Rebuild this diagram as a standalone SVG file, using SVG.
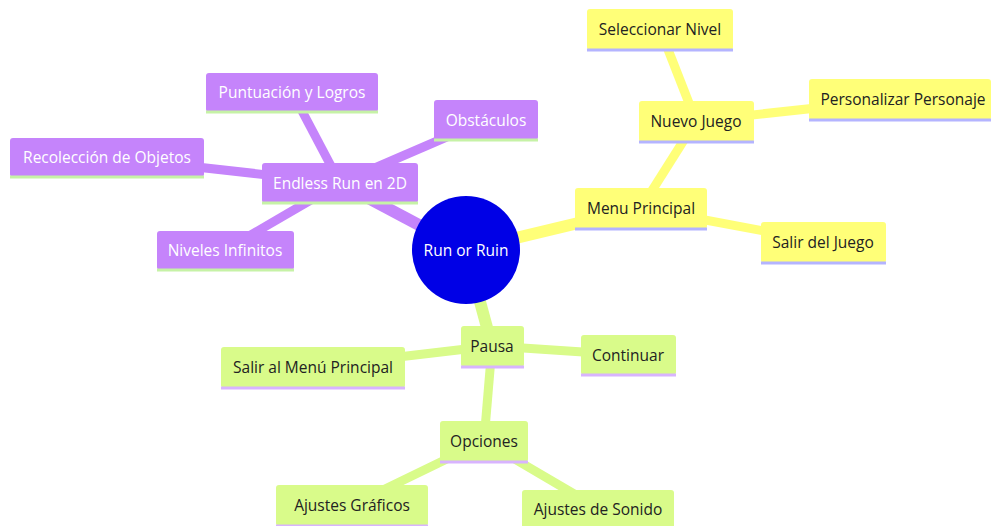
<svg xmlns="http://www.w3.org/2000/svg" width="991" height="526" viewBox="0 0 991 526">
<style>
text{font-family:"Open Sans","Liberation Sans",sans-serif;font-size:15.5px;text-anchor:middle;dominant-baseline:central}
.p rect{fill:#c584fb}.p line{stroke:#c6f2a6;stroke-width:3}.p text{fill:#ffffff}
.y rect{fill:#ffff78}.y line{stroke:#b4b4ff;stroke-width:3}.y text{fill:#222222}
.g rect{fill:#d9fb8a}.g line{stroke:#d8b4fe;stroke-width:3}.g text{fill:#222222}
.e{fill:none;stroke-linecap:butt}
.ep{stroke:#c584fb}.ey{stroke:#ffff78}.eg{stroke:#d9fb8a}
.d1{stroke-width:12}.d2{stroke-width:9}
</style>
<rect width="991" height="526" fill="#ffffff"/>
<g id="connectors">
<line class="e ep d1" x1="466" y1="250" x2="340" y2="183"/>
<line class="e ep d2" x1="340" y1="183" x2="292" y2="92"/>
<line class="e ep d2" x1="340" y1="183" x2="486" y2="120"/>
<line class="e ep d2" x1="340" y1="183" x2="107" y2="157"/>
<line class="e ep d2" x1="340" y1="183" x2="225" y2="250"/>
<line class="e ey d1" x1="466" y1="250" x2="641" y2="208"/>
<line class="e ey d2" x1="641" y1="208" x2="696" y2="121"/>
<line class="e ey d2" x1="696" y1="121" x2="660" y2="29"/>
<line class="e ey d2" x1="696" y1="121" x2="900" y2="99"/>
<line class="e ey d2" x1="641" y1="208" x2="823" y2="242"/>
<line class="e eg d1" x1="466" y1="250" x2="492" y2="346"/>
<line class="e eg d2" x1="492" y1="346" x2="628" y2="355"/>
<line class="e eg d2" x1="492" y1="346" x2="313" y2="367"/>
<line class="e eg d2" x1="492" y1="346" x2="484" y2="441"/>
<line class="e eg d2" x1="484" y1="441" x2="352" y2="505"/>
<line class="e eg d2" x1="484" y1="441" x2="598" y2="508"/>
</g>
<g id="root"><circle cx="466" cy="250" r="54" fill="#0000e6"/><text x="466" y="250" fill="#ffffff">Run or Ruin</text></g>
<g id="endless" class="p"><rect x="262" y="163" width="156" height="40" rx="3"/><line x1="262" y1="203" x2="418" y2="203"/><text x="340" y="183">Endless Run en 2D</text></g>
<g id="puntuacion" class="p"><rect x="206" y="73" width="172" height="39" rx="3"/><line x1="206" y1="112" x2="378" y2="112"/><text x="292" y="92">Puntuación y Logros</text></g>
<g id="obstaculos" class="p"><rect x="434" y="100" width="104" height="40" rx="3"/><line x1="434" y1="140" x2="538" y2="140"/><text x="486" y="120">Obstáculos</text></g>
<g id="recoleccion" class="p"><rect x="10" y="138" width="194" height="39" rx="3"/><line x1="10" y1="177" x2="204" y2="177"/><text x="107" y="157">Recolección de Objetos</text></g>
<g id="niveles" class="p"><rect x="157" y="231" width="137" height="39" rx="3"/><line x1="157" y1="270" x2="294" y2="270"/><text x="225" y="250">Niveles Infinitos</text></g>
<g id="menu" class="y"><rect x="575" y="188" width="132" height="41" rx="3"/><line x1="575" y1="229" x2="707" y2="229"/><text x="641" y="208">Menu Principal</text></g>
<g id="nuevo" class="y"><rect x="639" y="101" width="115" height="41" rx="3"/><line x1="639" y1="142" x2="754" y2="142"/><text x="696" y="121">Nuevo Juego</text></g>
<g id="seleccionar" class="y"><rect x="587" y="9" width="146" height="41" rx="3"/><line x1="587" y1="50" x2="733" y2="50"/><text x="660" y="29">Seleccionar Nivel</text></g>
<g id="personalizar" class="y"><rect x="809" y="79" width="182" height="41" rx="3"/><line x1="809" y1="120" x2="991" y2="120"/><text x="903" y="99">Personalizar Personaje</text></g>
<g id="salirjuego" class="y"><rect x="761" y="222" width="125" height="41" rx="3"/><line x1="761" y1="263" x2="886" y2="263"/><text x="823" y="242">Salir del Juego</text></g>
<g id="pausa" class="g"><rect x="461" y="326" width="63" height="41" rx="3"/><line x1="461" y1="367" x2="524" y2="367"/><text x="492" y="346">Pausa</text></g>
<g id="continuar" class="g"><rect x="581" y="335" width="95" height="40" rx="3"/><line x1="581" y1="375" x2="676" y2="375"/><text x="628" y="355">Continuar</text></g>
<g id="salirmenu" class="g"><rect x="221" y="347" width="184" height="41" rx="3"/><line x1="221" y1="388" x2="405" y2="388"/><text x="313" y="367">Salir al Menú Principal</text></g>
<g id="opciones" class="g"><rect x="440" y="421" width="88" height="41" rx="3"/><line x1="440" y1="462" x2="528" y2="462"/><text x="484" y="441">Opciones</text></g>
<g id="graficos" class="g"><rect x="276" y="485" width="152" height="41" rx="3"/><line x1="276" y1="526" x2="428" y2="526"/><text x="352" y="505">Ajustes Gráficos</text></g>
<g id="sonido" class="g"><rect x="522" y="490" width="152" height="41" rx="3"/><line x1="522" y1="531" x2="674" y2="531"/><text x="598" y="509">Ajustes de Sonido</text></g>
</svg>
